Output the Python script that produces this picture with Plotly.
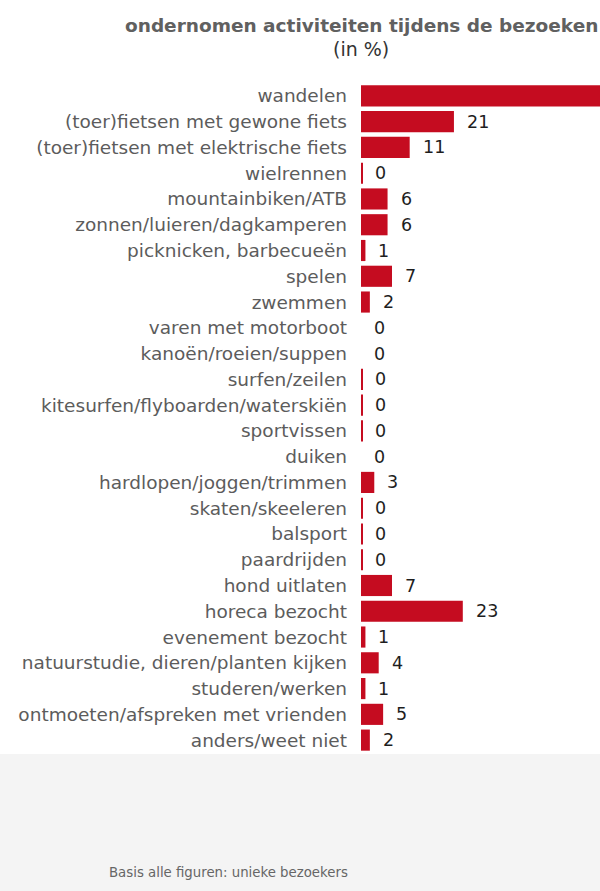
import plotly.graph_objects as go

categories = [
    "wandelen",
    "(toer)fietsen met gewone fiets",
    "(toer)fietsen met elektrische fiets",
    "wielrennen",
    "mountainbiken/ATB",
    "zonnen/luieren/dagkamperen",
    "picknicken, barbecueën",
    "spelen",
    "zwemmen",
    "varen met motorboot",
    "kanoën/roeien/suppen",
    "surfen/zeilen",
    "kitesurfen/flyboarden/waterskiën",
    "sportvissen",
    "duiken",
    "hardlopen/joggen/trimmen",
    "skaten/skeeleren",
    "balsport",
    "paardrijden",
    "hond uitlaten",
    "horeca bezocht",
    "evenement bezocht",
    "natuurstudie, dieren/planten kijken",
    "studeren/werken",
    "ontmoeten/afspreken met vrienden",
    "anders/weet niet",
]
values = [62, 21, 11, 0.3, 6, 6, 1, 7, 2, 0, 0, 0.3, 0.3, 0.3, 0,
          3, 0.3, 0.3, 0.3, 7, 23, 1, 4, 1, 5, 2]
labels = ["62", "21", "11", "0", "6", "6", "1", "7", "2", "0", "0", "0", "0", "0", "0",
          "3", "0", "0", "0", "7", "23", "1", "4", "1", "5", "2"]

W, H = 600, 891
M_L, M_R, M_T, M_B = 361, 0, 83, 138
X_MAX = 54

FONT = "DejaVu Sans, Verdana, sans-serif"
RED = "#c50c20"


def px_x(px):
    return (px - M_L) / (W - M_L - M_R)


def px_y(py):
    return (H - M_B - py) / (H - M_T - M_B)


fig = go.Figure()
fig.add_trace(go.Bar(
    x=values,
    y=categories,
    orientation="h",
    marker=dict(color=RED, line=dict(width=0)),
    hoverinfo="skip",
))

# value labels right of the bars
for c, v, t in zip(categories, values, labels):
    if v > X_MAX:
        continue
    fig.add_annotation(
        x=v, y=c, xref="x", yref="y", text=t, showarrow=False,
        xanchor="left", xshift=11,
        font=dict(family=FONT, size=17.5, color="#1e1e1e"),
    )

# titles
fig.add_annotation(
    x=px_x(361), y=px_y(25), xref="paper", yref="paper",
    text="<b>ondernomen activiteiten tijdens de bezoeken</b>", showarrow=False,
    xanchor="center", yanchor="middle",
    font=dict(family=FONT, size=18.5, color="#606060"),
)
fig.add_annotation(
    x=px_x(361), y=px_y(49), xref="paper", yref="paper",
    text="(in %)", showarrow=False, xanchor="center", yanchor="middle",
    font=dict(family=FONT, size=19, color="#333333"),
)

# footnote area
fig.add_shape(
    type="rect", xref="paper", yref="paper", layer="below",
    x0=px_x(0), x1=px_x(W), y0=px_y(H), y1=px_y(754),
    fillcolor="#f4f4f4", line=dict(width=0),
)
fig.add_annotation(
    x=px_x(107), y=px_y(872), xref="paper", yref="paper",
    text="Basis alle figuren: unieke bezoekers", showarrow=False,
    xanchor="left", yanchor="middle",
    font=dict(family=FONT, size=13.3, color="#666666"),
)

fig.update_layout(
    width=W, height=H,
    margin=dict(l=M_L, r=M_R, t=M_T, b=M_B),
    paper_bgcolor="white", plot_bgcolor="white",
    showlegend=False,
    bargap=0.18,
    xaxis=dict(range=[0, X_MAX], visible=False, fixedrange=True),
    yaxis=dict(
        type="category", autorange="reversed", showgrid=False, zeroline=False,
        showline=False, ticks="", ticklabelstandoff=13, fixedrange=True,
        tickfont=dict(family=FONT, size=18.5, color="#5c5c5c"),
    ),
)

fig.write_html("out.html", config={"displayModeBar": False},
               post_script="document.body.style.margin='0';")
